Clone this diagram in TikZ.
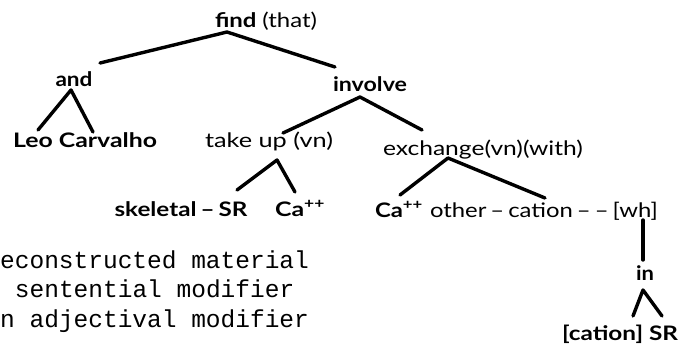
\documentclass[tikz,border=0pt]{standalone}
\usepackage{fontspec}
\setmainfont{Lato}
\setmonofont{Liberation Mono}
\usetikzlibrary{calc}

% scale a text horizontally to a given width, keeping its height
\newlength\fitlen
\newcommand\fitto[2]{\settowidth\fitlen{#2}\scalebox{\fpeval{#1/\fitlen}}[1]{#2}}

\tikzset{
  word/.style={anchor=base, inner sep=0pt, font=\fontsize{20}{20}\selectfont\bfseries},
  lightword/.style={word, font=\fontsize{20}{20}\selectfont},
  gloss/.style={anchor=base west, inner sep=0pt, font=\fontsize{24.5}{24.5}\ttfamily},
  branch/.style={line width=3.4pt, line cap=round, line join=round}
}

\begin{document}
\begin{tikzpicture}[x=1pt, y=-1pt]
\useasboundingbox (0,0) rectangle (680,349);

% tree words (anchored at their baselines)
\node[word] (find) at (266,27) {\fitto{102pt}{find \mdseries(that)}};
\node[word] (and) at (74,86) {\fitto{37pt}{and}};
\node[word] (involve) at (370,91) {\fitto{74pt}{involve}};
\node[word] (leo) at (85,147) {\fitto{144pt}{Leo Carvalho}};
\node[lightword] (takeup) at (269,147) {\fitto{128pt}{take up (vn)}};
\node[lightword] (exch) at (483,155) {\fitto{200pt}{exchange(vn)(with)}};
\node[word] (skel) at (181,216) {\fitto{133pt}{skeletal\,–\,SR}};
\node[word] (caA) at (300,216) {\fitto{50pt}{Ca\textsuperscript{++}}};
\node[word] (caB) at (399,217) {\fitto{48pt}{Ca\textsuperscript{++}}};
\node[word] (other) at (544,217) {\fitto{228pt}{\mdseries other\,–\,cation\,–\,–\,[wh]}};
\node[word] (in) at (645,280) {\fitto{18pt}{in}};
\node[word] (cation) at (620,340) {\fitto{116pt}{[cation] SR}};

% glosses
\node[gloss] (g1) at (0,268) {econstructed material};
\node[gloss] (g2) at (0,297) {\ sentential modifier};
\node[gloss] (g3) at (0,327) {n adjectival modifier};

% branches
\draw[branch] ([shift={(26,-23)}]and.base) -- ([shift={(-39,5)}]find.base)
  -- ([shift={(-35,-24)}]involve.base);
\draw[branch] ([shift={(-47,-17)}]leo.base) -- ([shift={(-3,4)}]and.base)
  -- ([shift={(8,-15)}]leo.base);
\draw[branch] ([shift={(14,-14)}]takeup.base) -- ([shift={(-10,6)}]involve.base)
  -- ([shift={(-61,-25)}]exch.base);
\draw[branch] ([shift={(56,-26)}]skel.base) -- ([shift={(8,13)}]takeup.base)
  -- ([shift={(-5,-24)}]caA.base);
\draw[branch] ([shift={(1,-22)}]caB.base) -- ([shift={(-35,3)}]exch.base)
  -- ([shift={(1,-19)}]other.base);
\draw[branch] ([shift={(99,3)}]other.base) -- ([shift={(-2,-20)}]in.base);
\draw[branch] ([shift={(13,-24)}]cation.base) -- ([shift={(-2,10)}]in.base)
  -- ([shift={(42,-24)}]cation.base);
\end{tikzpicture}
\end{document}
